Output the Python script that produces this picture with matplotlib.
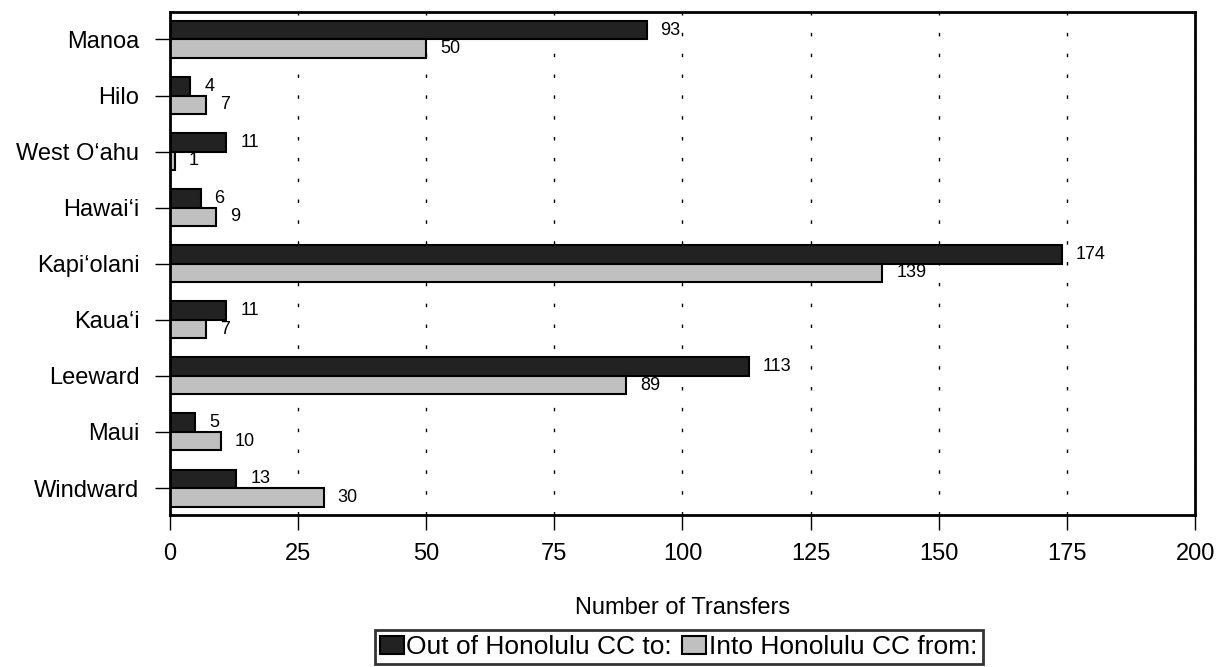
import matplotlib.pyplot as plt
import numpy as np

plt.rcParams['font.family'] = ['Liberation Sans', 'DejaVu Sans']

campuses = ['Manoa', 'Hilo', 'West O\u2018ahu', 'Hawai\u2018i', 'Kapi\u2018olani',
            'Kaua\u2018i', 'Leeward', 'Maui', 'Windward']
out_of = [93, 4, 11, 6, 174, 11, 113, 5, 13]
into = [50, 7, 1, 9, 139, 7, 89, 10, 30]
series_names = ['Out of Honolulu CC to:', 'Into Honolulu CC from:']

fig = plt.figure(figsize=(12.22, 6.67), dpi=100)
ax = fig.add_axes((0.139, 0.228, 0.839, 0.754))

y = np.arange(len(campuses))
h = 0.33
b1 = ax.barh(y - h / 2, out_of, height=h, color='#222222', edgecolor='black',
             linewidth=1.5, label=series_names[0])
b2 = ax.barh(y + h / 2, into, height=h, color='#c0c0c0', edgecolor='black',
             linewidth=1.5, label=series_names[1])

for bars, vals in ((b1, out_of), (b2, into)):
    for bar, v in zip(bars, vals):
        ax.annotate(str(v), (bar.get_width(), bar.get_y() + bar.get_height() / 2),
                    xytext=(10, 0), textcoords='offset points',
                    ha='left', va='center', fontsize=13)

ax.set_yticks(y)
ax.set_yticklabels(campuses, fontsize=17)
ax.set_ylim(len(campuses) - 0.52, -0.49)
ax.set_xlim(0, 200)
ax.set_xticks(np.arange(0, 201, 25))
ax.tick_params(axis='x', labelsize=17, length=11, width=1, pad=9)
ax.tick_params(axis='y', length=11, width=1, pad=11)

ax.set_axisbelow(True)
ax.xaxis.grid(True, color='black', linewidth=1, dashes=(2.5, 12.5))

for s in ax.spines.values():
    s.set_linewidth(2)

ax.set_xlabel('Number of Transfers', fontsize=17, labelpad=23)

leg = fig.legend(loc='lower left', bbox_to_anchor=(372 / 1222, 0.0), ncol=2,
                 fontsize=19, frameon=True, fancybox=False, edgecolor='black',
                 handlelength=0.9, handleheight=0.65, handletextpad=0.1,
                 columnspacing=0.4, borderpad=0.2, borderaxespad=0.1)
leg.get_frame().set_linewidth(2)

fig.savefig('out.png', dpi=100)
